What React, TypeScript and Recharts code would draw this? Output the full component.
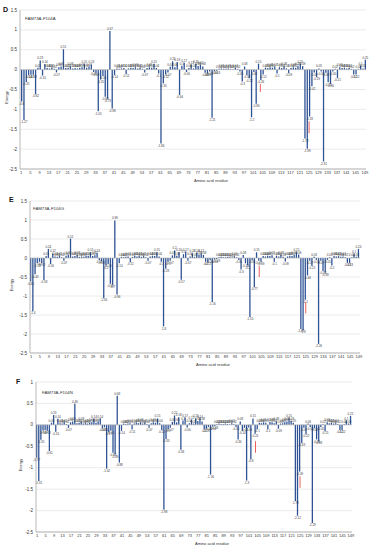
import React from 'react';
import { BarChart, Bar, XAxis, YAxis, CartesianGrid, ReferenceLine, LabelList } from 'recharts';

const residues = [
  1, 2, 3, 4, 5, 6, 7, 8, 9, 10, 11, 12, 13, 14, 15, 16, 17, 18, 19, 20,
  21, 22, 23, 24, 25, 26, 27, 28, 29, 30, 31, 32, 33, 34, 35, 36, 37, 38, 39, 40,
  41, 42, 43, 44, 45, 46, 47, 48, 49, 50, 51, 52, 53, 54, 55, 56, 57, 58, 59, 60,
  61, 62, 63, 64, 65, 66, 67, 68, 69, 70, 71, 72, 73, 74, 75, 76, 77, 78, 79, 80,
  81, 82, 83, 84, 85, 86, 87, 88, 89, 90, 91, 92, 93, 94, 95, 96, 97, 98, 99, 100,
  101, 102, 103, 104, 105, 106, 107, 108, 109, 110, 111, 112, 113, 114, 115, 116, 117, 118, 119, 120,
  121, 122, 123, 124, 125, 126, 127, 128, 129, 130, 131, 132, 133, 134, 135, 136, 137, 138, 139, 140,
  141, 142, 143, 144, 145, 146, 147, 148, 149,
];

const xTicks = [1, 5, 9, 13, 17, 21, 25, 29, 33, 37, 41, 45, 49, 53, 57, 61, 65, 69, 73, 77, 81, 85, 89, 93, 97, 101, 105, 109, 113, 117, 121, 125, 129, 133, 137, 141, 145, 149];
const yTicksDE = [1.5, 1, 0.5, 0, -0.5, -1, -1.5, -2, -2.5];
const yTicksF = [1, 0.5, 0, -0.5, -1, -1.5, -2, -2.5];

const energyD = [
  -0.80, -1.27, -0.31, -0.14, -0.13, -0.13, -0.62, 0.05, 0.23, -0.15,
  0.14, 0.04, 0.03, 0.05, 0.02, -0.07, 0.06, 0.08, 0.51, 0.04,
  0.05, 0.08, 0.03, 0.04, 0.03, 0.05, 0.06, 0.15, 0.05, 0.07,
  0.13, -0.06, -0.08, -1.05, -0.25, -0.16, -0.68, -0.73, 0.97, -0.98,
  -0.14, 0.03, 0.02, 0.03, 0.04, -0.11, 0.03, 0.05, 0.04, 0.06,
  0.03, 0.05, 0.02, -0.07, 0.04, 0.06, 0.05, 0.15, 0.04, -0.10,
  -1.86, -0.35, -0.12, -0.07, 0.07, 0.21, 0.06, 0.19, -0.64, 0.10,
  0.17, -0.06, 0.04, 0.12, 0.03, 0.15, 0.09, 0.12, 0.08, -0.08,
  -0.09, -0.05, -1.21, -0.04, -0.03, 0.02, 0.03, 0.02, 0.02, 0.03,
  0.02, 0.01, 0.04, 0.02, -0.05, -0.30, 0.08, -0.14, -0.22, -1.20,
  -0.06, -0.86, 0.15, -0.26, -0.12, 0.05, 0.04, 0.06, 0.05, 0.07,
  -0.10, 0.06, 0.04, 0.08, 0.03, -0.09, 0.04, 0.06, 0.05, 0.08,
  0.15, 0.09, -1.73, -1.99, -1.18, -0.42, -0.07, -0.19, 0.03, -0.05,
  -2.31, -0.08, -0.32, -0.36, -0.05, 0.02, -0.21, 0.06, 0.04, 0.05,
  0.03, 0.04, 0.02, -0.12, -0.12, 0.02, 0.10, 0.03, 0.25,
];

const energyE = [
  -0.62, -1.40, -0.43, -0.14, -0.10, -0.13, -0.58, 0.05, 0.24, -0.16,
  0.12, 0.04, 0.03, 0.05, 0.02, -0.07, 0.06, 0.08, 0.51, 0.04,
  0.05, 0.08, 0.03, 0.04, 0.03, 0.05, 0.06, 0.15, 0.05, 0.07,
  0.13, -0.06, -0.08, -1.06, -0.20, -0.16, -0.68, -0.70, 0.99, -0.96,
  -0.14, 0.03, 0.02, 0.03, 0.04, -0.11, 0.03, 0.05, 0.04, 0.06,
  0.03, 0.05, 0.02, -0.07, 0.04, 0.06, 0.05, 0.15, 0.04, -0.10,
  -1.80, -0.28, -0.10, -0.07, 0.07, 0.20, 0.06, 0.16, -0.57, 0.10,
  0.17, -0.07, 0.04, 0.12, 0.03, 0.14, 0.09, 0.12, 0.08, -0.10,
  -0.11, -0.05, -1.16, -0.04, -0.03, 0.02, 0.03, 0.02, 0.02, 0.03,
  0.02, 0.01, 0.04, 0.02, -0.05, -0.30, 0.08, -0.14, -0.20, -1.55,
  -0.06, -0.77, 0.15, -0.07, -0.09, 0.05, 0.04, 0.06, 0.05, 0.07,
  -0.10, 0.06, 0.04, 0.08, 0.03, -0.09, 0.04, 0.06, 0.05, 0.08,
  0.15, 0.09, -1.87, -1.90, -1.10, -0.46, -0.07, -0.21, 0.03, -0.05,
  -2.26, -0.07, -0.34, -0.38, -0.05, 0.02, -0.20, 0.06, 0.04, 0.05,
  0.03, 0.04, 0.02, -0.13, -0.13, 0.02, 0.10, 0.03, 0.24,
];

const energyF = [
  -0.77, -1.31, -0.35, -0.13, -0.12, -0.13, -0.61, 0.05, 0.23, -0.16,
  0.14, 0.04, 0.03, 0.05, 0.02, -0.07, 0.06, 0.08, 0.49, 0.04,
  0.05, 0.08, 0.03, 0.04, 0.03, 0.05, 0.06, 0.14, 0.05, 0.07,
  0.14, -0.08, -0.06, -1.02, -0.17, -0.14, -0.65, -0.69, 0.68, -0.88,
  -0.14, 0.03, 0.02, 0.03, 0.04, -0.11, 0.03, 0.05, 0.04, 0.06,
  0.03, 0.05, 0.02, -0.07, 0.04, 0.06, 0.05, 0.15, 0.04, -0.12,
  -1.98, -0.33, -0.10, -0.07, 0.07, 0.22, 0.06, 0.18, -0.58, 0.10,
  0.17, -0.06, 0.04, 0.12, 0.03, 0.15, 0.09, 0.14, 0.08, -0.10,
  -0.09, -0.05, -1.16, -0.04, -0.03, 0.02, 0.03, 0.02, 0.02, 0.03,
  0.02, 0.01, 0.04, 0.02, -0.05, -0.34, 0.08, -0.14, -0.07, -1.30,
  -0.06, -0.80, 0.15, -0.21, -0.10, 0.05, 0.04, 0.06, 0.05, -0.10,
  0.07, 0.06, 0.04, 0.08, -0.09, 0.03, 0.04, 0.06, 0.08, 0.15,
  0.09, 0.05, -1.78, -2.12, -1.09, -0.43, -0.07, -0.22, 0.03, -0.05,
  -2.29, -0.08, -0.34, -0.38, -0.05, 0.02, -0.15, 0.06, 0.04, 0.05,
  0.03, 0.04, 0.02, -0.12, -0.12, 0.02, 0.10, 0.03, 0.21,
];

type Mark = { res: number; from: number; to: number };
const marksD: Mark[] = [{ res: 104, from: -0.36, to: -0.56 }, { res: 125, from: -1.3, to: -1.6 }];
const marksE: Mark[] = [{ res: 104, from: -0.2, to: -0.5 }, { res: 125, from: -1.16, to: -1.46 }];
const marksF: Mark[] = [{ res: 104, from: -0.38, to: -0.65 }, { res: 125, from: -1.2, to: -1.47 }];

const FONT = '"Liberation Sans", Arial, sans-serif';
const BAR = '#2e5395';
const FRAME = '#a6a6a6';
const GRID = '#dedede';

const renderValue = (props: any) => {
  const { x, y, width, height, value } = props;
  if (value === undefined || value === null) return null;
  const h = Number(height) || 0;
  const top = Math.min(Number(y), Number(y) + h);
  const bottom = Math.max(Number(y), Number(y) + h);
  const cx = Number(x) + Number(width) / 2;
  const neg = Number(value) < 0;
  return (
    <text x={cx} y={neg ? bottom + 3.2 : top - 1} fontSize={3} textAnchor="middle" fill="#3a3a3a" fontFamily={FONT}>
      {String(value)}
    </text>
  );
};

type PanelProps = {
  values: number[];
  yTicks: number[];
  marks: Mark[];
  top: number;
  height: number;
  mTop: number;
  mRight: number;
  yWidth: number;
  energyX: number;
  letter: string;
  title: string;
  letterX: number;
  letterY: number;
  titleX: number;
  titleY: number;
};

function Panel(p: PanelProps) {
  const data = residues.map((r, i) => ({ res: r, v: p.values[i] }));
  const domain: [number, number] = [Math.min(...p.yTicks), Math.max(...p.yTicks)];
  const energyLabel = (lp: any) => {
    const vb = lp.viewBox || {};
    const cx = p.energyX;
    const cy = vb.y + vb.height / 2 + 8;
    return (
      <text x={cx} y={cy} transform={`rotate(-90, ${cx}, ${cy})`} fontSize={4} textAnchor="middle" dominantBaseline="middle" fill="#333" fontFamily={FONT}>
        Energy
      </text>
    );
  };
  const residueLabel = (lp: any) => {
    const vb = lp.viewBox || {};
    const cx = vb.x + vb.width / 2 + 18;
    const cy = vb.y + 12;
    return (
      <text x={cx} y={cy} fontSize={4} textAnchor="middle" dominantBaseline="middle" fill="#333" fontFamily={FONT}>
        Amino acid residue
      </text>
    );
  };
  return (
    <div style={{ position: 'absolute', left: 0, top: p.top, width: 372, height: p.height }}>
      <BarChart width={372} height={p.height} data={data} margin={{ top: p.mTop, right: p.mRight, bottom: 0, left: 0 }} barCategoryGap={0}>
        <CartesianGrid vertical={false} stroke={GRID} strokeWidth={0.6} />
        <XAxis
          dataKey="res"
          type="category"
          ticks={xTicks}
          interval={0}
          tickLine={false}
          tickSize={0}
          tickMargin={2}
          height={26}
          axisLine={{ stroke: FRAME, strokeWidth: 0.8 }}
          tick={{ fontSize: 4, fill: '#333', fontFamily: FONT }}
          label={residueLabel}
        />
        <XAxis xAxisId="top" orientation="top" dataKey="res" height={0} tick={false} tickLine={false} axisLine={{ stroke: FRAME, strokeWidth: 0.8 }} />
        <YAxis
          type="number"
          domain={domain}
          ticks={p.yTicks}
          interval={0}
          width={p.yWidth}
          tickLine={false}
          tickSize={0}
          tickMargin={3}
          axisLine={{ stroke: FRAME, strokeWidth: 0.8 }}
          tick={{ fontSize: 4.5, fill: '#333', fontFamily: FONT }}
          label={energyLabel}
        />
        <YAxis yAxisId="right" orientation="right" type="number" domain={domain} width={0} tick={false} tickLine={false} axisLine={{ stroke: FRAME, strokeWidth: 0.8 }} />
        <ReferenceLine y={0} stroke="#bdbdbd" strokeWidth={0.6} />
        <Bar dataKey="v" fill={BAR} barSize={1.3} isAnimationActive={false}>
          <LabelList dataKey="v" content={renderValue} />
        </Bar>
        {p.marks.map((m) => (
          <ReferenceLine
            key={m.res}
            segment={[{ x: m.res, y: m.from }, { x: m.res, y: m.to }]}
            stroke="#e53935"
            strokeWidth={0.8}
          />
        ))}
      </BarChart>
      <div style={{ position: 'absolute', left: p.letterX, top: p.letterY - 4, fontSize: 7, fontWeight: 'bold', lineHeight: '8px', fontFamily: FONT, color: '#111' }}>
        {p.letter}
      </div>
      <div style={{ position: 'absolute', left: p.titleX, top: p.titleY - 2.5, fontSize: 4.3, lineHeight: '5px', fontFamily: FONT, color: '#333', whiteSpace: 'nowrap' }}>
        {p.title}
      </div>
    </div>
  );
}

export default function App() {
  return (
    <div style={{ position: 'absolute', left: 0, top: 0, width: 372, height: 550, background: '#fff', overflow: 'hidden', fontFamily: FONT }}>
      <Panel values={energyD} yTicks={yTicksDE} marks={marksD} top={0} height={195} mTop={10} mRight={6} yWidth={20} energyX={7}
        letter="D" title="FAM73A-F104A" letterX={3} letterY={10} titleX={25} titleY={18} />
      <Panel values={energyE} yTicks={yTicksDE} marks={marksE} top={185} height={194} mTop={16} mRight={12} yWidth={30} energyX={12}
        letter="E" title="FAM73A-F104G" letterX={9} letterY={15} titleX={33} titleY={23} />
      <Panel values={energyF} yTicks={yTicksF} marks={marksF} top={370} height={188} mTop={12} mRight={20} yWidth={36} energyX={21}
        letter="F" title="FAM73A-F104N" letterX={16} letterY={12} titleX={42} titleY={22} />
    </div>
  );
}
